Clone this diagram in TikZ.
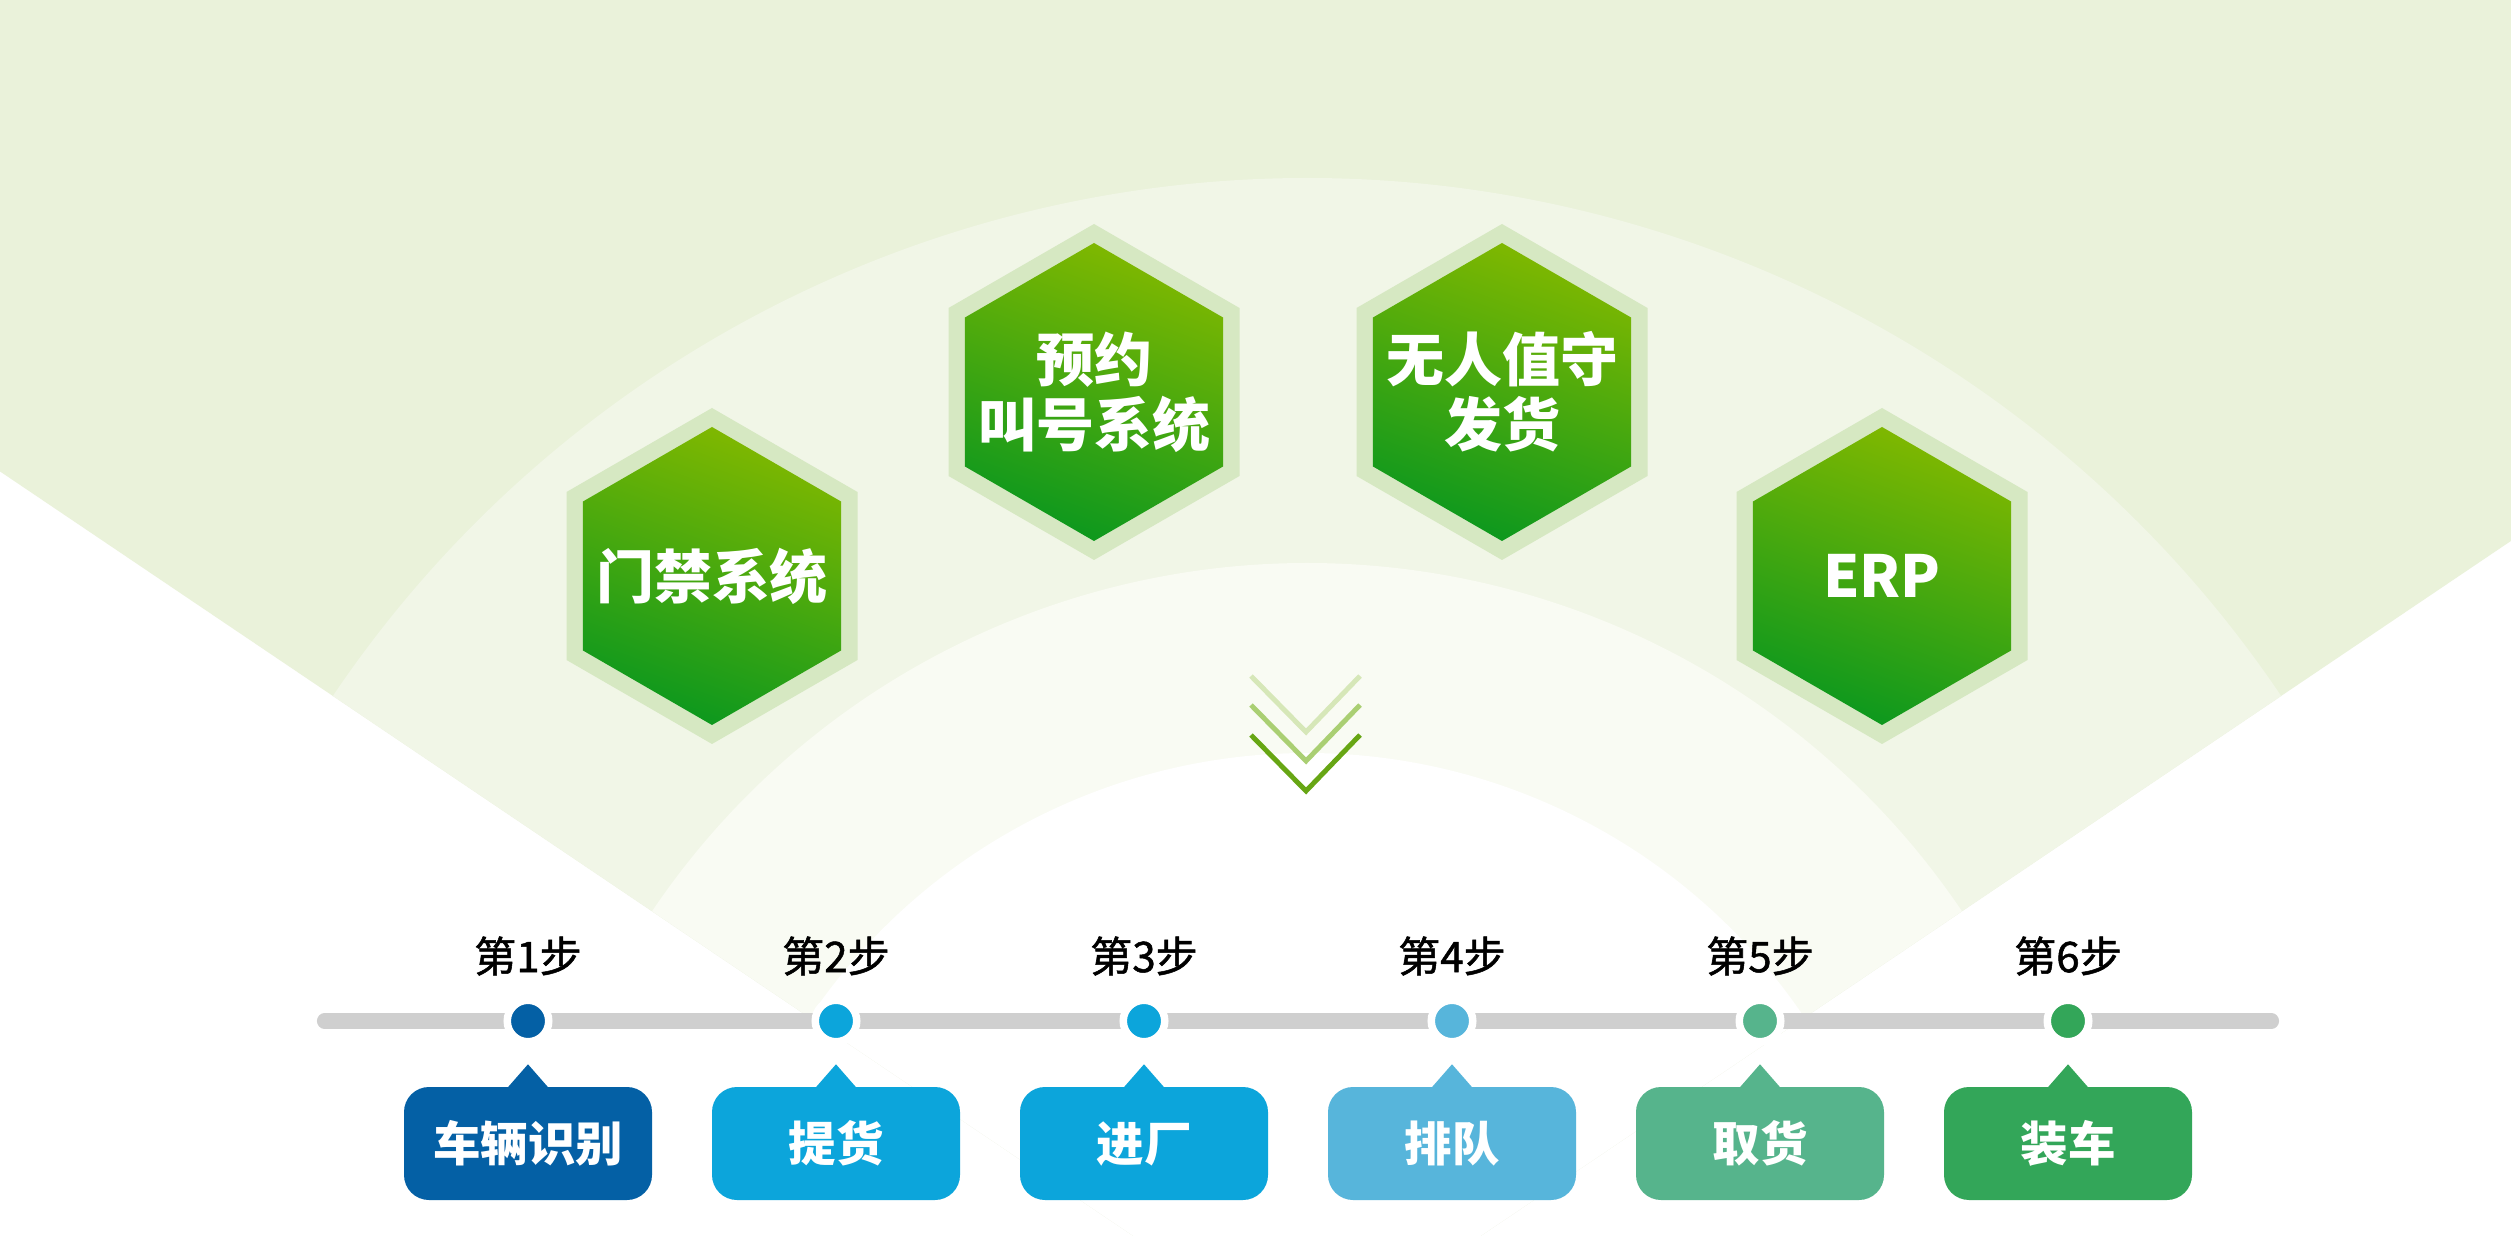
\documentclass[tikz,border=0pt]{standalone}
\usepackage{fontspec}
\newfontfamily\cjk{Noto Sans CJK SC}
\newfontfamily\cjkm{Noto Sans CJK SC}[FakeBold=1.2]
\usetikzlibrary{calc, positioning}
\definecolor{bg1}{RGB}{234, 242, 218}
\definecolor{bg2}{RGB}{241, 246, 231}
\definecolor{bg3}{RGB}{249, 251, 243}
\definecolor{hl}{RGB}{214, 232, 194}
\definecolor{gt}{RGB}{128, 184, 0}
\definecolor{gb}{RGB}{12, 152, 30}
\definecolor{v1}{RGB}{214, 231, 184}
\definecolor{v2}{RGB}{170, 207, 115}
\definecolor{v3}{RGB}{103, 166, 20}
\definecolor{tl}{RGB}{207, 207, 207}
\definecolor{s1}{RGB}{4, 96, 165}
\definecolor{s2}{RGB}{12, 165, 219}
\definecolor{s3}{RGB}{12, 165, 219}
\definecolor{s4}{RGB}{87, 181, 219}
\definecolor{s5}{RGB}{86, 180, 140}
\definecolor{s6}{RGB}{51, 166, 89}

\begin{document}
\begin{tikzpicture}[
		hexfill/.style={top color=gt, bottom color=gb, shading angle=-20},
		hextext/.style={text=white, align=center, font=\cjk\bfseries\fontsize{16.5}{18.5}\selectfont},
		chev/.style={line width=1.4pt},
		bar/.style={draw=tl, line width=4.3pt, line cap=round},
		dotnode/.style={circle, draw=white, line width=0.075cm, minimum size=0.415cm, inner sep=0pt},
		steplabel/.style={font=\cjkm\fontsize{12}{14}\selectfont, text=black},
		stepbox/.style={rounded corners=0.25cm, minimum width=2.48cm, minimum height=1.13cm, inner sep=0pt, text=white, font=\cjk\bfseries\fontsize{13.5}{15}\selectfont}
	]
				\useasboundingbox (0,0) rectangle (25.11,12.35);
				\clip (0,0) rectangle (25.11,12.35);
				
				% fan in the background
				\coordinate (C) at (13.07,-1.18);
				\fill[white] (0,0) rectangle (25.11,12.35);
				\fill[bg1] (C) -- ++(34:30) arc[start angle=34, end angle=146, radius=30] -- cycle;
				\fill[bg2] (C) -- ++(34:11.75) arc[start angle=34, end angle=146, radius=11.75] -- cycle;
				\fill[bg3] (C) -- ++(34:7.9) arc[start angle=34, end angle=146, radius=7.9] -- cycle;
				\fill[white] (C) -- ++(34:6) arc[start angle=34, end angle=146, radius=6] -- cycle;
				
				% hexagons
				\coordinate (H1) at (7.12,6.59);
				\coordinate (H2) at (10.94,8.43);
				\coordinate (H3) at (15.02,8.43);
				\coordinate (H4) at (18.82,6.59);
				
				\fill[hl] (H1) +(90:1.68) -- +(150:1.68) -- +(210:1.68) -- +(270:1.68) -- +(330:1.68) -- +(30:1.68) -- cycle;
				\shade[hexfill] (H1) +(90:1.49) -- +(150:1.49) -- +(210:1.49) -- +(270:1.49) -- +(330:1.49) -- +(30:1.49) -- cycle;
				\node[hextext] (gate) at (H1) {门禁系统};
				
				\fill[hl] (H2) +(90:1.68) -- +(150:1.68) -- +(210:1.68) -- +(270:1.68) -- +(330:1.68) -- +(30:1.68) -- cycle;
				\shade[hexfill] (H2) +(90:1.49) -- +(150:1.49) -- +(210:1.49) -- +(270:1.49) -- +(330:1.49) -- +(30:1.49) -- cycle;
				\node[hextext] (call) at (H2) {预约\\叫号系统};
				
				\fill[hl] (H3) +(90:1.68) -- +(150:1.68) -- +(210:1.68) -- +(270:1.68) -- +(330:1.68) -- +(30:1.68) -- cycle;
				\shade[hexfill] (H3) +(90:1.49) -- +(150:1.49) -- +(210:1.49) -- +(270:1.49) -- +(330:1.49) -- +(30:1.49) -- cycle;
				\node[hextext] (ship) at (H3) {无人值守\\发货};
				
				\fill[hl] (H4) +(90:1.68) -- +(150:1.68) -- +(210:1.68) -- +(270:1.68) -- +(330:1.68) -- +(30:1.68) -- cycle;
				\shade[hexfill] (H4) +(90:1.49) -- +(150:1.49) -- +(210:1.49) -- +(270:1.49) -- +(330:1.49) -- +(30:1.49) -- cycle;
				\node[hextext] (erp) at (H4) {ERP};
				
				% chevrons
				\draw[chev, draw=v1] (12.51,5.59) -- (13.06,5.03) -- (13.60,5.59);
				\draw[chev, draw=v2] (12.51,5.30) -- (13.06,4.74) -- (13.60,5.30);
				\draw[chev, draw=v3] (12.51,5.00) -- (13.06,4.44) -- (13.60,5.00);
				
				% time line
				\coordinate (L) at (3.245,2.14);
				\coordinate (R) at (22.715,2.14);
				\draw[bar] (L) -- (R);
				
				\node[dotnode, fill=s1] (d1) at (5.28,2.14) {};
				\node[dotnode, fill=s2] (d2) at (8.36,2.14) {};
				\node[dotnode, fill=s3] (d3) at (11.44,2.14) {};
				\node[dotnode, fill=s4] (d4) at (14.52,2.14) {};
				\node[dotnode, fill=s5] (d5) at (17.60,2.14) {};
				\node[dotnode, fill=s6] (d6) at (20.68,2.14) {};
				
				\node[steplabel] (l1) at ($(d1)+(0,0.65)$) {第1步};
				\node[steplabel] (l2) at ($(d2)+(0,0.65)$) {第2步};
				\node[steplabel] (l3) at ($(d3)+(0,0.65)$) {第3步};
				\node[steplabel] (l4) at ($(d4)+(0,0.65)$) {第4步};
				\node[steplabel] (l5) at ($(d5)+(0,0.65)$) {第5步};
				\node[steplabel] (l6) at ($(d6)+(0,0.65)$) {第6步};
				
				\node[stepbox, fill=s1] (b1) at ($(d1)+(0,-1.225)$) {车辆识别};
				\node[stepbox, fill=s2] (b2) at ($(d2)+(0,-1.225)$) {提货};
				\node[stepbox, fill=s3] (b3) at ($(d3)+(0,-1.225)$) {进厂};
				\node[stepbox, fill=s4] (b4) at ($(d4)+(0,-1.225)$) {排队};
				\node[stepbox, fill=s5] (b5) at ($(d5)+(0,-1.225)$) {取货};
				\node[stepbox, fill=s6] (b6) at ($(d6)+(0,-1.225)$) {装车};
				
				\fill[s1] ($(b1.north)+(-0.21,-0.02)$) -- ($(b1.north)+(0,0.22)$) -- ($(b1.north)+(0.21,-0.02)$) -- cycle;
				\fill[s2] ($(b2.north)+(-0.21,-0.02)$) -- ($(b2.north)+(0,0.22)$) -- ($(b2.north)+(0.21,-0.02)$) -- cycle;
				\fill[s3] ($(b3.north)+(-0.21,-0.02)$) -- ($(b3.north)+(0,0.22)$) -- ($(b3.north)+(0.21,-0.02)$) -- cycle;
				\fill[s4] ($(b4.north)+(-0.21,-0.02)$) -- ($(b4.north)+(0,0.22)$) -- ($(b4.north)+(0.21,-0.02)$) -- cycle;
				\fill[s5] ($(b5.north)+(-0.21,-0.02)$) -- ($(b5.north)+(0,0.22)$) -- ($(b5.north)+(0.21,-0.02)$) -- cycle;
				\fill[s6] ($(b6.north)+(-0.21,-0.02)$) -- ($(b6.north)+(0,0.22)$) -- ($(b6.north)+(0.21,-0.02)$) -- cycle;
			\end{tikzpicture}
\end{document}
